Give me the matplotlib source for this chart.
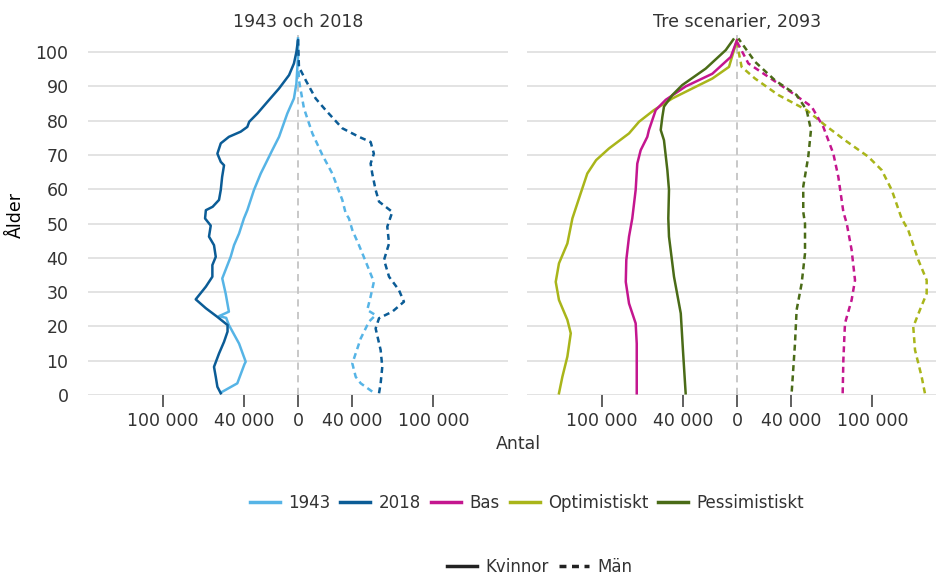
import matplotlib
matplotlib.use("Agg")
import matplotlib.pyplot as plt
from matplotlib.lines import Line2D
import numpy as np

# Befolkning efter ålder och kön (antal personer)
alder_1943_kv = [0.7, 3.4, 9.0, 9.7, 15, 20.4, 22.5, 23, 24.3, 29.6, 34, 40.3, 43.7, 47.1, 51.5, 53.9,
                 59.8, 64.6, 71.4, 75.3, 82.1, 86.5, 90.8, 98.6, 104]
kv_1943 = [57000, 44800, 39500, 38600, 43500, 51000, 53000, 58300, 51000, 53400, 55900, 49700, 47200, 43500,
           39900, 37400, 32500, 27500, 19000, 14000, 7900, 3000, 1200, 0, 0]
alder_1943_man = [1, 3.4, 5.3, 9.2, 16.5, 21.4, 23.3, 24.8, 28.7, 33, 38.9, 43.7, 48.1, 51.5, 53, 56.9,
                  64.6, 70, 76.3, 83.6, 91.8, 98, 104]
man_1943 = [54800, 46300, 42600, 40100, 46300, 52400, 57300, 51100, 53600, 56000, 50000, 45000, 40100, 37600,
            35200, 32700, 25300, 18000, 10600, 4400, 700, 0, 0]

alder_2018_kv = [0.5, 2.4, 5.3, 8.2, 12.1, 15.5, 18.5, 20.4, 22.8, 25.3, 27.9, 31.6, 34.5, 37.9, 40.3, 43.7,
                 46.2, 49.4, 51.5, 53.9, 54.9, 56.9, 59.8, 63.6, 67, 68, 70.4, 73.4, 75.3, 76.8, 78.2, 79.7,
                 82.1, 85.5, 89.4, 93.3, 96.7, 100, 103.5]
kv_2018 = [57000, 59500, 60700, 62000, 58300, 54600, 52000, 52000, 59600, 68000, 75500, 68000, 63200, 63200,
           60700, 62000, 65700, 64400, 68600, 68000, 63000, 58300, 57000, 56000, 54600, 57000, 59500, 57000,
           51000, 42300, 37400, 36000, 30000, 22600, 14000, 6600, 3000, 1200, 0]
alder_2018_man = [0.5, 3.4, 8.2, 13.1, 19.4, 22.4, 24.3, 27.2, 30.6, 34.5, 39.4, 44.2, 49.1, 53.4, 56.4, 59.8,
                  64.6, 67.5, 70.4, 73.8, 75.3, 77.8, 83.1, 86.5, 91.8, 95.7, 103.5]
man_2018 = [59800, 61000, 62200, 61000, 57300, 59800, 69600, 78200, 74500, 67200, 63500, 67200, 65900, 69600,
            59800, 57300, 54800, 53600, 56000, 53600, 45000, 32700, 20400, 13000, 5700, 700, 0]

alder_bas_kv = [0.5, 15, 20.9, 26.7, 33, 39.4, 46.2, 51.5, 59.8, 67.5, 71.4, 75.3, 77.3, 80.2, 83.1, 86.1,
                90, 93.7, 98.6, 103.5]
kv_bas = [74000, 74000, 74800, 79700, 82100, 81700, 79700, 77300, 74800, 73600, 71100, 66200, 65000, 62500,
          60000, 52600, 37900, 18200, 4600, 0]
alder_bas_man = [0.5, 10.2, 20.9, 27.7, 33.5, 42.3, 50, 53.4, 63.6, 70.4, 78.2, 84.1, 87.9, 92.8, 96.7, 103]
man_bas = [78000, 78500, 79700, 84600, 87100, 84600, 81000, 78500, 74800, 71100, 63700, 55100, 41500, 23100,
           8400, 0]

alder_opt_kv = [0.5, 5.3, 11.2, 18, 21.9, 27.7, 33, 38.4, 44.2, 51.5, 58.8, 64.6, 68.5, 71.9, 76.3, 79.7,
                83.1, 86.5, 89.4, 92.3, 95.7, 100.6, 103.5]
kv_opt = [131400, 128900, 125200, 122700, 125200, 131400, 133800, 131400, 125200, 121500, 115400, 110500,
          104000, 94500, 79700, 72300, 61300, 47700, 33000, 18200, 5900, 2200, 0]
alder_opt_man = [0.5, 5.3, 13.1, 19.9, 24.8, 29.6, 33.5, 39.4, 48.1, 51.5, 59.8, 65.6, 69.5, 74.3, 78.7,
                 83.1, 87.5, 92.3, 95.7, 102.5]
man_opt = [138700, 136300, 131400, 130100, 135000, 140000, 140000, 133800, 126400, 121500, 114200, 106800,
           96900, 79700, 65000, 51400, 30500, 13300, 3400, 0]

alder_pes_kv = [0.5, 13.1, 23.8, 34.5, 46.2, 51.5, 59.8, 65.6, 74.3, 77.3, 81.1, 84.1, 87.5, 90.4, 95.2,
                100.6, 103.7]
kv_pes = [37900, 39900, 41500, 46500, 50200, 50700, 50200, 51400, 53900, 56300, 55100, 53900, 47700, 40400,
          23100, 8300, 2700]
alder_pes_man = [1, 15, 24.8, 32.5, 41.3, 50, 53.4, 60.8, 69.5, 77.3, 83.1, 87.5, 91.8, 97.2, 104]
man_pes = [40400, 42800, 44000, 47700, 50200, 50200, 48900, 48900, 52600, 54600, 51400, 44000, 28000, 13300,
           1000]

titlar = ["1943 och 2018", "Tre scenarier, 2093"]
xtick_varden = [-100000, -40000, 0, 40000, 100000]
xtick_text = ["100 000", "40 000", "0", "40 000", "100 000"]

farger = {"1943": "#56B4E6", "2018": "#0B5C96", "Bas": "#C4168F",
          "Optimistiskt": "#A9B51A", "Pessimistiskt": "#4A6B17"}

textfarg = "#333333"
plt.rcParams["font.family"] = ["DejaVu Sans"]
plt.rcParams["text.color"] = textfarg
plt.rcParams["xtick.color"] = "#444444"
plt.rcParams["xtick.labelcolor"] = textfarg
plt.rcParams["ytick.labelcolor"] = textfarg

fig = plt.figure(figsize=(9.36, 5.76), dpi=100)
ax1 = fig.add_axes([88 / 936, 181 / 576, 420 / 936, 360 / 576])
ax2 = fig.add_axes([527 / 936, 181 / 576, 420 / 936, 360 / 576])

lw = 1.8
streckat = (0, (2.4, 1.7))

serier_v = [("1943", alder_1943_kv, kv_1943, alder_1943_man, man_1943),
            ("2018", alder_2018_kv, kv_2018, alder_2018_man, man_2018)]
serier_h = [("Optimistiskt", alder_opt_kv, kv_opt, alder_opt_man, man_opt),
            ("Bas", alder_bas_kv, kv_bas, alder_bas_man, man_bas),
            ("Pessimistiskt", alder_pes_kv, kv_pes, alder_pes_man, man_pes)]

for ax, serier, titel in [(ax1, serier_v, titlar[0]), (ax2, serier_h, titlar[1])]:
    ax.axvline(0, color="#c4c4c4", lw=1.3, ls=(0, (4, 3)), zorder=1)
    for namn, a_kv, kv, a_man, man in serier:
        ax.plot(-np.array(kv), a_kv, color=farger[namn], lw=lw, solid_joinstyle="round", zorder=3)
        ax.plot(man, a_man, color=farger[namn], lw=lw, ls=streckat, zorder=3)
    ax.set_xlim(-155000, 155000)
    ax.set_ylim(0, 105)
    ax.set_yticks(range(0, 101, 10))
    ax.grid(axis="y", color="#dedede", lw=1.2)
    ax.set_axisbelow(True)
    for s in ax.spines.values():
        s.set_visible(False)
    ax.set_xticks(xtick_varden)
    ax.set_xticklabels(xtick_text)
    ax.tick_params(axis="x", length=8.5, width=1.2, pad=4, labelsize=12.5)
    ax.tick_params(axis="y", length=0, pad=14, labelsize=12.5)
    ax.set_title(titel, fontsize=12.5, pad=6, color=textfarg)

ax2.set_yticklabels([])
ax1.set_ylabel("Ålder", fontsize=12.5, labelpad=8)

fig.text(518 / 936, 1 - 444 / 576, "Antal", ha="center", va="center", fontsize=12.5)

handtag = [Line2D([], [], color=farger[n], lw=2.5) for n in ["1943", "2018", "Bas", "Optimistiskt", "Pessimistiskt"]]
fig.legend(handtag, ["1943", "2018", "Bas", "Optimistiskt", "Pessimistiskt"], ncol=5, frameon=False,
           loc="center", bbox_to_anchor=(527 / 936, 1 - 503 / 576), fontsize=12,
           handlelength=1.8, handletextpad=0.5, columnspacing=0.6)

handtag2 = [Line2D([], [], color="#222222", lw=2.5),
            Line2D([], [], color="#222222", lw=2.5, ls=(0, (2, 1.6)))]
fig.legend(handtag2, ["Kvinnor", "Män"], ncol=2, frameon=False, loc="center",
           bbox_to_anchor=(540 / 936, 1 - 567 / 576), fontsize=12,
           handlelength=1.8, handletextpad=0.5, columnspacing=0.6)

fig.savefig("out.png", dpi=100)
